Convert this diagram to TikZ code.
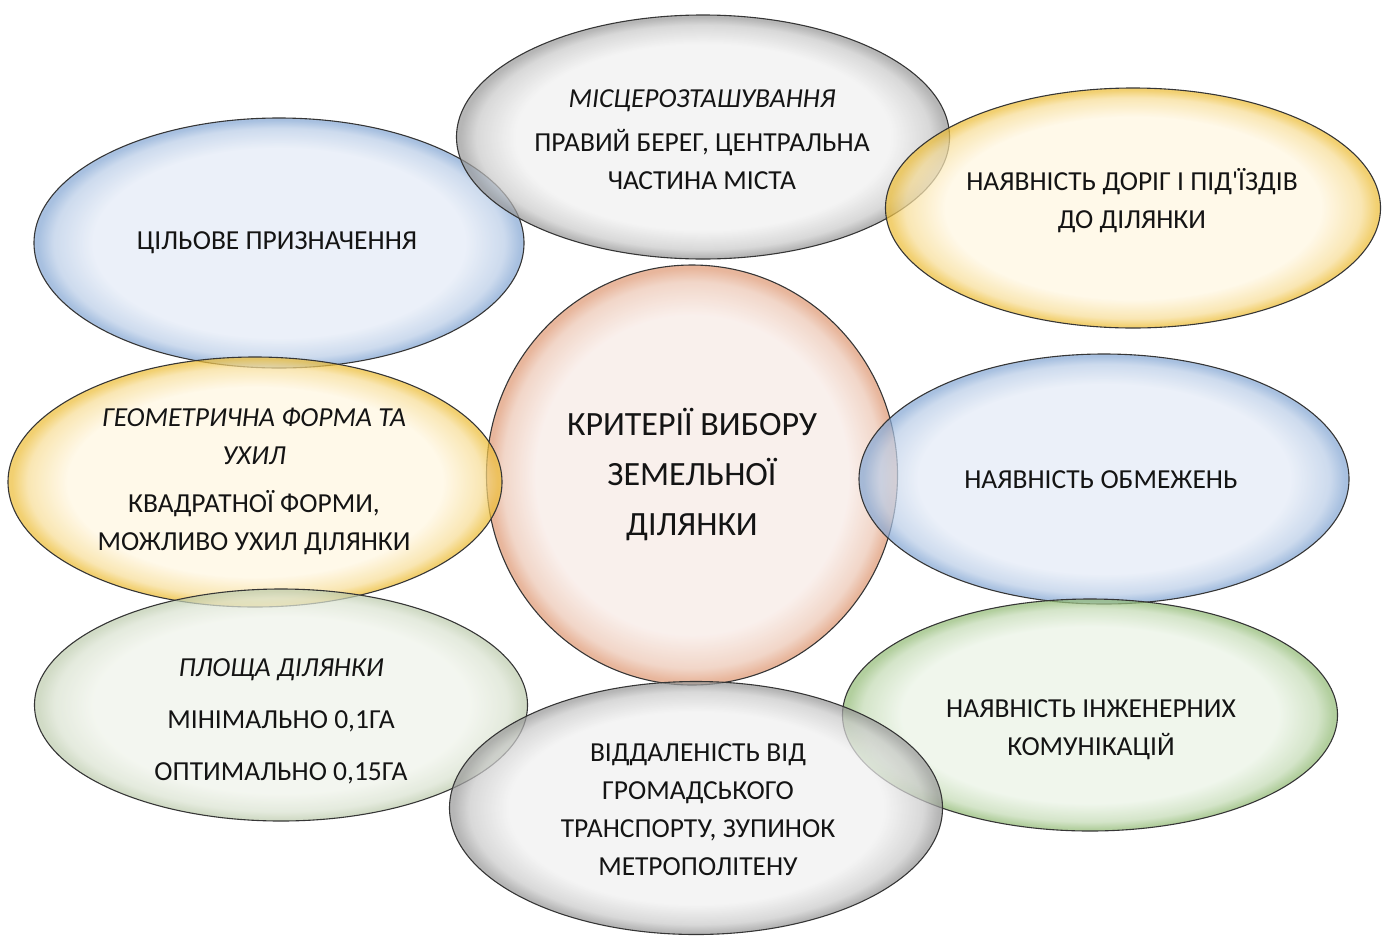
\documentclass[tikz,border=0pt]{standalone}
\usepackage{fontspec}
\setmainfont{Carlito}
\usetikzlibrary{shapes.geometric}

\definecolor{outl}{HTML}{363636}
\definecolor{grayIn}{HTML}{F0F0F0}
\definecolor{grayRim}{HTML}{9A9A9A}
\definecolor{blueIn}{HTML}{E3EAF6}
\definecolor{blueRim}{HTML}{86A8D4}
\definecolor{goldIn}{HTML}{FFF6E0}
\definecolor{goldRim}{HTML}{EDBE3A}
\definecolor{greenIn}{HTML}{EAF3E5}
\definecolor{greenRim}{HTML}{94BC78}
\definecolor{sageIn}{HTML}{EFF3EA}
\definecolor{sageRim}{HTML}{BFCDB0}
\definecolor{orangeIn}{HTML}{F7EAE5}
\definecolor{orangeRim}{HTML}{DF9A76}
\definecolor{txtc}{HTML}{141414}

\newcommand\mkglass[3]{\pgfdeclareradialshading{#1}{\pgfpoint{0bp}{0bp}}{color(0bp)=(#2); color(19bp)=(#2); color(23bp)=(#3!45!#2); color(24.6bp)=(#3); color(50bp)=(#3)}}
\mkglass{glassgray}{grayIn}{grayRim}
\mkglass{glassblue}{blueIn}{blueRim}
\mkglass{glassgold}{goldIn}{goldRim}
\mkglass{glassgreen}{greenIn}{greenRim}
\mkglass{glasssage}{sageIn}{sageRim}
\mkglass{glassorange}{orangeIn}{orangeRim}

\tikzset{
  bubble/.style={ellipse, draw=outl, line width=1.1pt, fill opacity=0.72,
    inner sep=0pt, minimum width=492pt, minimum height=246pt},
  txt/.style={align=center, text=txtc, inner sep=0pt,
    font=\fontsize{27.5}{38}\selectfont},
  bigtxt/.style={align=center, text=txtc, inner sep=0pt,
    font=\fontsize{34}{50}\selectfont}
}

\begin{document}
\begin{tikzpicture}[x=1pt,y=-1pt]
\useasboundingbox (0,0) rectangle (1387,935);

% bubbles
\node[bubble, shading=glassorange, minimum width=411pt, minimum height=420pt] (crit) at (692,475) {};
\node[bubble, shading=glassblue, minimum width=490pt, minimum height=250pt] (purpose) at (279,243) {};
\node[bubble, shading=glassgray, minimum width=493pt, minimum height=244pt] (location) at (703,137) {};
\node[bubble, shading=glassgold, minimum width=495pt, minimum height=240pt] (roads) at (1133,208) {};
\node[bubble, shading=glassgold, minimum width=494pt, minimum height=250pt] (geom) at (255,482) {};
\node[bubble, shading=glassblue, minimum width=490pt, minimum height=250pt] (limits) at (1104,479) {};
\node[bubble, shading=glasssage, minimum width=493pt, minimum height=232pt] (area) at (281,705) {};
\node[bubble, shading=glassgreen, minimum width=495pt, minimum height=232pt] (util) at (1090,715) {};
\node[bubble, shading=glassgray, minimum width=493pt, minimum height=253pt] (dist) at (696,808) {};

% texts
\node[bigtxt] (t-crit) at (crit.center) {КРИТЕРІЇ ВИБОРУ\\ЗЕМЕЛЬНОЇ\\ДІЛЯНКИ};
\node[txt] (t-purpose) at (277,243) {ЦІЛЬОВЕ ПРИЗНАЧЕННЯ};
\node[txt] (t-location) at (702,140) {\textit{МІСЦЕРОЗТАШУВАННЯ}\\[6pt]ПРАВИЙ БЕРЕГ, ЦЕНТРАЛЬНА\\ЧАСТИНА МІСТА};
\node[txt] (t-roads) at (1132,201) {НАЯВНІСТЬ ДОРІГ І ПІД\textquotesingle ЇЗДІВ\\ДО ДІЛЯНКИ};
\node[txt] (t-geom) at (254,481) {\textit{ГЕОМЕТРИЧНА ФОРМА ТА}\\\textit{УХИЛ}\\[10pt]КВАДРАТНОЇ ФОРМИ,\\МОЖЛИВО УХИЛ ДІЛЯНКИ};
\node[txt] (t-limits) at (1101,480) {НАЯВНІСТЬ ОБМЕЖЕНЬ};
\node[txt] (t-area) at (281,721) {\textit{ПЛОЩА ДІЛЯНКИ}\\[14pt]МІНІМАЛЬНО 0,1ГА\\[14pt]ОПТИМАЛЬНО 0,15ГА};
\node[txt] (t-util) at (1091,730) {НАЯВНІСТЬ ІНЖЕНЕРНИХ\\КОМУНІКАЦІЙ};
\node[txt] (t-dist) at (698,810) {ВІДДАЛЕНІСТЬ ВІД\\ГРОМАДСЬКОГО\\ТРАНСПОРТУ, ЗУПИНОК\\МЕТРОПОЛІТЕНУ};
\end{tikzpicture}
\end{document}
